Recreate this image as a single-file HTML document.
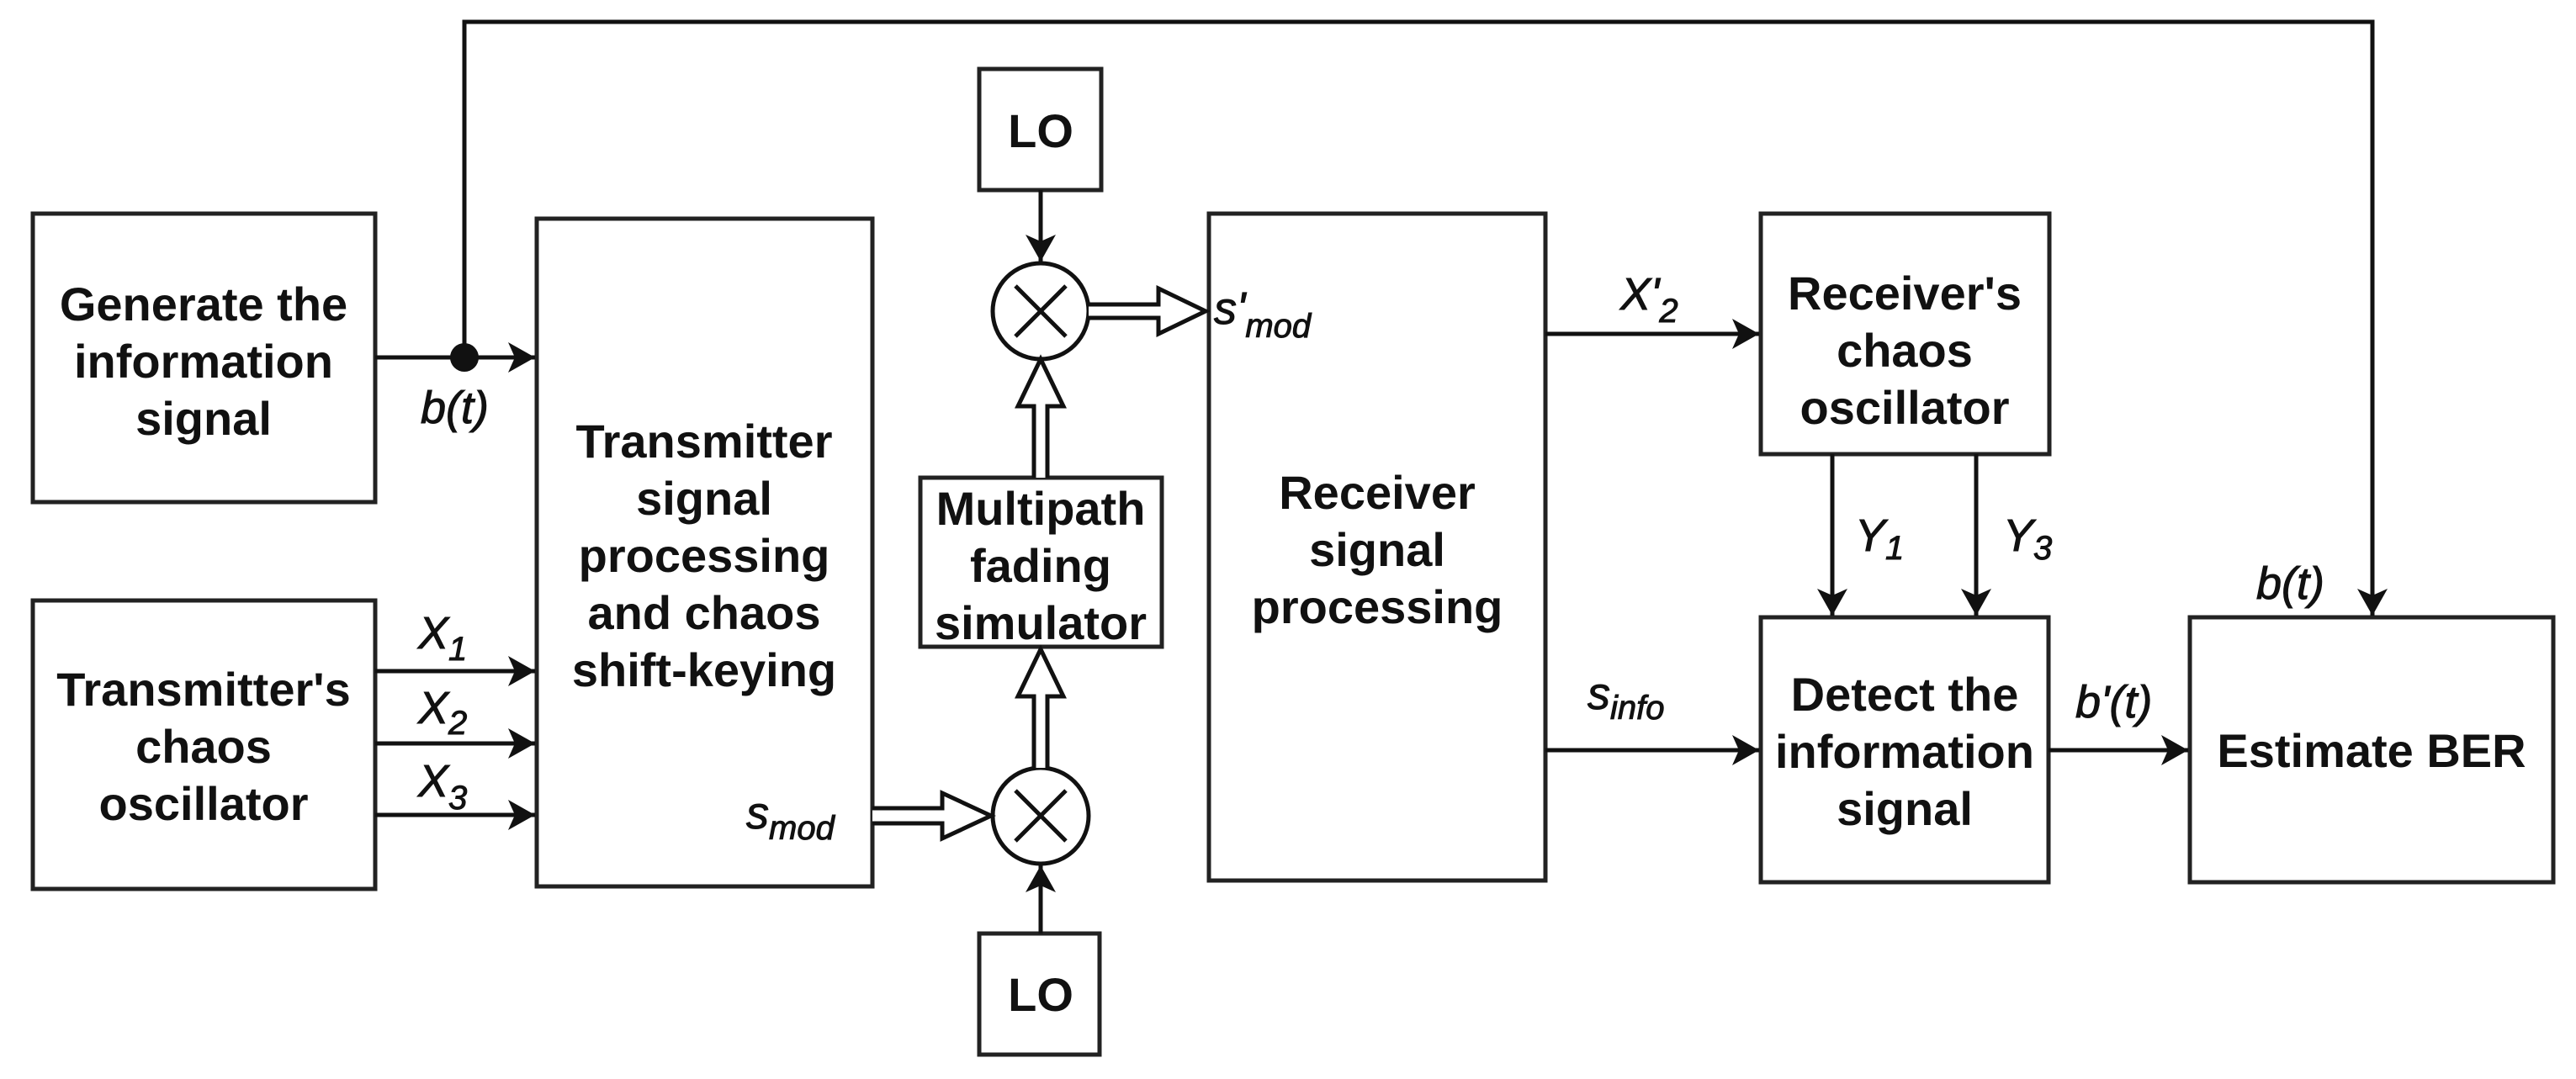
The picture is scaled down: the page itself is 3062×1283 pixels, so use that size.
<!DOCTYPE html>
<html><head><meta charset="utf-8"><style>
html,body{margin:0;padding:0;background:#fff;}
svg{display:block;}
.b{font-family:"Liberation Sans",Arial,sans-serif;font-weight:bold;font-size:56px;fill:#111;text-anchor:middle;}
.l{font-family:"Liberation Sans",Arial,sans-serif;font-style:italic;font-size:54px;fill:#111;stroke:#111;stroke-width:1;}
.s{font-size:40px;}
</style></head><body>
<svg width="3062" height="1283" viewBox="0 0 3062 1283" xmlns="http://www.w3.org/2000/svg">
<defs>
<marker id="a" markerUnits="userSpaceOnUse" markerWidth="40" markerHeight="40" refX="32" refY="18" orient="auto">
<path d="M0,0 L32,18 L0,36 L8,18 Z" fill="#111"/>
</marker>
</defs>
<g fill="none" stroke="#222" stroke-width="5">
<rect x="39" y="254" width="407" height="343"/>
<rect x="39" y="714" width="407" height="343"/>
<rect x="638" y="260" width="399" height="794"/>
<rect x="1164" y="82" width="145" height="144"/>
<rect x="1094" y="568" width="287" height="201"/>
<rect x="1164" y="1110" width="143" height="144"/>
<rect x="1437" y="254" width="400" height="793"/>
<rect x="2093" y="254" width="343" height="286"/>
<rect x="2093" y="734" width="342" height="315"/>
<rect x="2603" y="734" width="432" height="315"/>
</g>
<g stroke="#111" stroke-width="5" fill="none">
<!-- gen to tx -->
<line x1="446" y1="425" x2="636" y2="425" marker-end="url(#a)"/>
<polyline points="552,425 552,26 2820,26 2820,732" marker-end="url(#a)"/>
<line x1="446" y1="798" x2="636" y2="798" marker-end="url(#a)"/>
<line x1="446" y1="884" x2="636" y2="884" marker-end="url(#a)"/>
<line x1="446" y1="969" x2="636" y2="969" marker-end="url(#a)"/>
<!-- LO arrows -->
<line x1="1237" y1="226" x2="1237" y2="311" marker-end="url(#a)"/>
<line x1="1237" y1="1110" x2="1237" y2="1029" marker-end="url(#a)"/>
<!-- rx arrows -->
<line x1="1837" y1="397" x2="2091" y2="397" marker-end="url(#a)"/>
<line x1="1837" y1="892" x2="2091" y2="892" marker-end="url(#a)"/>
<line x1="2178" y1="540" x2="2178" y2="732" marker-end="url(#a)"/>
<line x1="2349" y1="540" x2="2349" y2="732" marker-end="url(#a)"/>
<line x1="2435" y1="892" x2="2601" y2="892" marker-end="url(#a)"/>
<!-- mixers -->
<circle cx="1237" cy="370" r="57"/>
<line x1="1207" y1="340" x2="1267" y2="400"/><line x1="1267" y1="340" x2="1207" y2="400"/>
<circle cx="1237" cy="970" r="57"/>
<line x1="1207" y1="940" x2="1267" y2="1000"/><line x1="1267" y1="940" x2="1207" y2="1000"/>
</g>
<circle cx="552" cy="425" r="17" fill="#111"/>
<!-- hollow arrows -->
<g stroke="#111" stroke-width="5" fill="#fff" stroke-linejoin="miter">
<path d="M1294,362 L1377,362 L1377,343 L1433,370 L1377,397 L1377,378 L1294,378"/>
<path d="M1037,961 L1120,961 L1120,943 L1178,970 L1120,997 L1120,979 L1037,979"/>
<path d="M1229,568 L1229,483 L1210,483 L1237,427 L1264,483 L1245,483 L1245,568"/>
<path d="M1229,913 L1229,828 L1210,828 L1237,772 L1264,828 L1245,828 L1245,913"/>
</g>
<!-- box texts -->
<g class="b">
<text x="242" y="381">Generate the</text>
<text x="242" y="449">information</text>
<text x="242" y="517">signal</text>
<text x="242" y="839">Transmitter's</text>
<text x="242" y="907">chaos</text>
<text x="242" y="975">oscillator</text>
<text x="837" y="544">Transmitter</text>
<text x="837" y="612">signal</text>
<text x="837" y="680">processing</text>
<text x="837" y="748">and chaos</text>
<text x="837" y="816">shift-keying</text>
<text x="1237" y="175">LO</text>
<text x="1237" y="1202">LO</text>
<text x="1237" y="624">Multipath</text>
<text x="1237" y="692">fading</text>
<text x="1237" y="760">simulator</text>
<text x="1637" y="605">Receiver</text>
<text x="1637" y="673">signal</text>
<text x="1637" y="741">processing</text>
<text x="2264" y="368">Receiver's</text>
<text x="2264" y="436">chaos</text>
<text x="2264" y="504">oscillator</text>
<text x="2264" y="845">Detect the</text>
<text x="2264" y="913">information</text>
<text x="2264" y="981">signal</text>
<text x="2819" y="912">Estimate BER</text>
</g>
<!-- labels -->
<g class="l">
<text x="500" y="503">b(t)</text>
<text x="497" y="771">X<tspan class="s" dy="14">1</tspan></text>
<text x="497" y="860">X<tspan class="s" dy="13">2</tspan></text>
<text x="497" y="947">X<tspan class="s" dy="15">3</tspan></text>
<text x="887" y="985">s<tspan class="s" dy="13">mod</tspan></text>
<text x="1443" y="385">s'<tspan class="s" dy="16">mod</tspan></text>
<text x="1926" y="368">X'<tspan class="s" dy="15">2</tspan></text>
<text x="1887" y="843">s<tspan class="s" dy="12">info</tspan></text>
<text x="2205" y="655">Y<tspan class="s" dy="10">1</tspan></text>
<text x="2381" y="655">Y<tspan class="s" dy="10">3</tspan></text>
<text x="2682" y="712">b(t)</text>
<text x="2467" y="853">b'(t)</text>
</g>
</svg>
</body></html>
